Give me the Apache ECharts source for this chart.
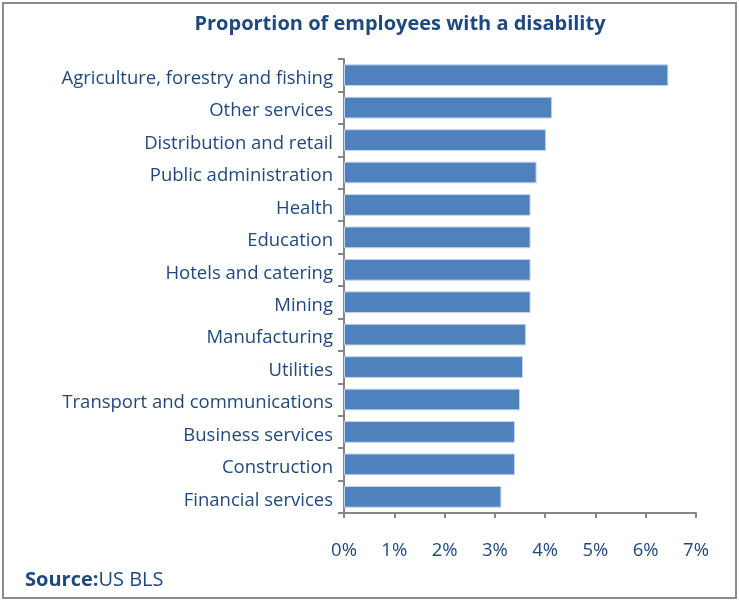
<!DOCTYPE html>
<html>
<head>
<meta charset="utf-8">
<script src="https://cdn.jsdelivr.net/npm/echarts@6/dist/echarts.min.js"></script>
<style>
  html, body { margin: 0; padding: 0; background: #fff; }
  #chart { width: 739px; height: 601px; }
</style>
</head>
<body>
<div id="chart"></div>
<script>
// Industries, listed top to bottom
const categories = [
  'Agriculture, forestry and fishing',
  'Other services',
  'Distribution and retail',
  'Public administration',
  'Health',
  'Education',
  'Hotels and catering',
  'Mining',
  'Manufacturing',
  'Utilities',
  'Transport and communications',
  'Business services',
  'Construction',
  'Financial services'
];
// Share of employees with a disability, percent
const shares = [6.45, 4.14, 4.02, 3.83, 3.71, 3.71, 3.71, 3.71, 3.62, 3.56, 3.50, 3.40, 3.40, 3.13];
const xTicks = [0, 1, 2, 3, 4, 5, 6, 7];

const textColor = '#1F497D';
const axisColor = '#868686';
const fontFamily = '"Open Sans", "Noto Sans", sans-serif';

const chart = echarts.init(document.getElementById('chart'));
chart.setOption({
  animation: false,
  backgroundColor: '#fff',
  title: {
    text: 'Proportion of employees with a disability',
    left: 395, top: 9, textAlign: 'center',
    textStyle: { color: textColor, fontSize: 20, fontWeight: 'bold', fontFamily }
  },
  grid: { left: 344, right: 43, top: 59, bottom: 88 },
  xAxis: {
    type: 'value',
    min: xTicks[0], max: xTicks[xTicks.length - 1], interval: 1,
    splitLine: { show: false },
    axisLine: { show: true, lineStyle: { color: axisColor, width: 2 } },
    axisTick: { show: true, length: 5, inside: false, lineStyle: { color: axisColor, width: 2 } },
    axisLabel: {
      color: textColor, fontSize: 18.5, fontFamily, margin: 28,
      formatter: v => v + '%'
    }
  },
  yAxis: {
    type: 'category',
    data: categories,
    inverse: true,
    axisLine: { show: true, lineStyle: { color: axisColor, width: 2 } },
    axisTick: { show: true, length: 6, lineStyle: { color: axisColor, width: 2 } },
    axisLabel: {
      margin: 11,
      formatter: v => '{c|' + v + '}',
      rich: {
        c: { color: textColor, fontSize: 18.5, fontFamily, padding: [7, 0, 0, 0] }
      }
    }
  },
  series: [{
    type: 'bar',
    data: shares,
    barCategoryGap: '33%',
    itemStyle: { color: '#4F81BD', borderColor: '#C5D5EA', borderWidth: 1 }
  }],
  graphic: [
    {
      type: 'rect',
      shape: { x: 3, y: 3, width: 733, height: 595 },
      style: { fill: 'none', stroke: '#8C8C8C', lineWidth: 2 },
      silent: true
    },
    {
      type: 'text',
      left: 25, top: 570,
      style: {
        text: '{b|Source:}{n|US BLS}',
        fill: textColor,
        rich: {
          b: { fontWeight: 'bold', fontSize: 20, fill: textColor, fontFamily },
          n: { fontSize: 20, fill: textColor, fontFamily }
        }
      }
    }
  ]
});
</script>
</body>
</html>
